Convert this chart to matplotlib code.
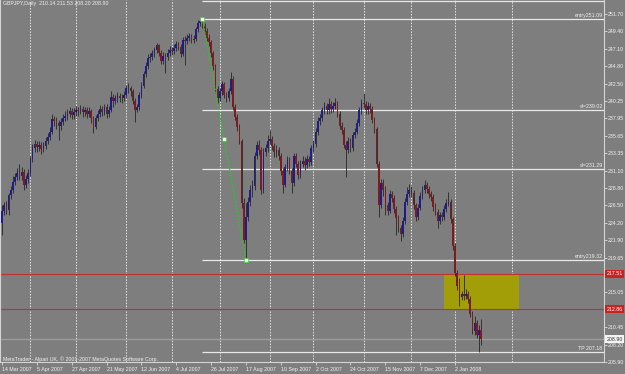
import matplotlib
matplotlib.use("Agg")
import matplotlib.pyplot as plt
import matplotlib.patches as patches
import numpy as np

# GBPJPY daily, 14 Mar 2007 .. mid Jan 2008
first_open = 224.2
close = [
    225.8, 226.5, 225.9, 227.9, 228.5, 229.6, 230.2, 230.8, 230.4, 230.9,
    229.2, 230.0, 230.8, 232.6, 234.0, 234.6, 234.2, 234.5, 233.9, 234.3,
    235.0, 235.5, 236.2, 237.9, 237.6, 237.3, 236.9, 237.5, 238.0, 238.3,
    238.6, 238.9, 238.4, 238.8, 239.0, 238.9, 239.2, 238.8, 239.0, 238.6,
    238.9, 238.0, 236.8, 238.0, 238.6, 239.2, 238.8, 239.4, 238.5, 239.0,
    240.8, 240.3, 240.6, 240.9, 240.7, 240.6, 241.0, 242.0, 241.9, 241.5,
    240.2, 239.1, 239.4, 241.0, 242.2, 243.8, 244.9, 245.9, 246.0, 246.5,
    246.9, 247.6, 246.6, 245.5, 246.2, 246.0, 246.6, 247.0, 246.8, 247.2,
    247.7, 247.4, 246.4, 248.3, 248.2, 248.6, 248.8, 248.3, 248.4, 249.7,
    250.5, 250.8, 250.1, 249.5, 248.6, 248.0, 246.5, 244.8, 241.8, 240.6,
    241.5, 242.5, 241.0, 240.6, 241.5, 243.2, 239.4, 238.2, 236.8, 235.0,
    226.8, 222.0, 225.0, 227.0, 228.5, 229.0, 233.0, 234.5, 233.8, 228.5,
    233.5, 234.0, 235.0, 235.3, 234.3, 233.5, 233.8, 233.0, 231.0, 229.2,
    231.5, 232.5, 231.0, 229.5, 233.0, 232.0, 230.5, 232.0, 232.4, 231.8,
    232.6, 232.2, 234.0, 234.6, 236.2, 237.6, 238.0, 239.0, 239.6, 239.0,
    239.8, 239.2, 239.6, 240.0, 238.5, 237.0, 236.4, 234.5, 233.8, 235.0,
    234.0, 235.8, 236.2, 237.4, 239.0, 240.0, 239.8, 239.0, 239.6, 239.2,
    237.8, 236.5, 232.0, 226.5, 229.5, 228.5, 226.5, 225.8, 228.0, 227.5,
    226.0, 224.8, 223.5, 222.8, 224.5, 227.0, 228.0, 228.6, 228.2, 226.5,
    225.0, 226.2, 227.8, 228.6, 229.2, 228.7, 228.0, 227.6, 226.3, 225.7,
    224.4, 225.2, 225.0, 226.0, 226.8, 227.0, 224.7, 221.2, 217.6, 215.9,
    214.5, 214.8, 214.6, 214.8, 214.2, 212.2, 210.0, 211.0, 209.4, 210.14,
    208.90,
]
high = [
    226.6, 227.0, 227.1, 228.2, 229.0, 230.4, 230.8, 231.4, 232.0, 231.5,
    231.3, 230.5, 231.3, 233.0, 234.6, 235.1, 235.0, 235.0, 234.9, 234.8,
    235.5, 236.0, 236.8, 238.6, 238.3, 238.1, 237.8, 238.0, 238.5, 238.9,
    239.2, 239.5, 239.3, 239.3, 239.6, 239.5, 239.7, 239.6, 239.5, 239.4,
    239.4, 239.2, 238.3, 238.4, 239.1, 239.7, 239.6, 239.9, 239.8, 239.6,
    241.5, 241.2, 241.1, 241.4, 241.3, 241.2, 241.6, 242.4, 242.6, 242.2,
    241.8, 240.6, 239.9, 241.4, 242.7, 244.2, 245.4, 246.4, 246.6, 247.0,
    247.4, 247.9, 247.8, 246.9, 246.7, 246.6, 247.1, 247.5, 247.4, 247.7,
    248.1, 248.0, 247.7, 248.7, 248.8, 249.0, 249.2, 249.1, 248.9, 250.0,
    250.9, 251.0, 251.09, 250.5, 249.8, 249.0, 248.3, 246.8, 245.1, 242.2,
    242.0, 242.9, 242.8, 241.4, 242.0, 244.0, 243.5, 239.8, 238.6, 237.2,
    235.3, 227.5, 226.8, 227.6, 229.2, 229.8, 233.6, 235.0, 235.1, 234.2,
    234.0, 234.6, 235.8, 236.4, 235.7, 234.7, 234.4, 234.2, 233.4, 231.4,
    232.0, 233.0, 232.9, 231.4, 233.4, 233.4, 232.4, 232.5, 233.0, 232.9,
    233.1, 233.0, 234.5, 235.1, 236.7, 238.1, 238.6, 239.5, 240.1, 240.0,
    240.6, 240.2, 240.1, 240.7, 240.3, 238.9, 237.5, 236.8, 235.0, 235.5,
    235.4, 236.2, 236.7, 237.9, 239.5, 240.5, 241.3, 240.2, 240.1, 240.0,
    239.6, 238.2, 236.8, 232.3, 230.0, 230.0, 229.0, 227.0, 228.5, 228.4,
    227.9, 226.4, 225.2, 223.9, 225.0, 227.5, 228.9, 229.3, 229.0, 228.6,
    226.8, 226.7, 228.3, 229.1, 229.9, 229.6, 229.1, 228.4, 228.0, 226.8,
    226.0, 225.7, 225.6, 226.5, 227.3, 228.3, 227.4, 225.0, 221.5, 218.0,
    217.0, 215.3, 217.3, 215.5, 215.2, 214.6, 212.6, 212.0, 211.4, 210.8,
    211.53,
]
low = [
    222.6, 225.2, 225.4, 225.3, 227.3, 228.1, 229.2, 229.8, 229.9, 229.9,
    228.5, 228.8, 229.5, 230.4, 232.2, 233.5, 233.6, 233.7, 233.3, 233.5,
    233.9, 234.6, 235.1, 235.9, 237.0, 236.6, 235.1, 236.4, 237.1, 237.6,
    237.8, 238.1, 237.9, 237.9, 238.3, 238.3, 238.5, 238.2, 238.3, 238.0,
    238.1, 237.4, 236.1, 236.5, 237.6, 238.2, 238.3, 238.4, 238.0, 238.1,
    238.8, 239.4, 239.8, 240.1, 240.1, 240.0, 240.2, 240.6, 241.3, 240.9,
    239.8, 237.5, 238.8, 239.0, 240.6, 241.9, 243.4, 244.5, 245.4, 245.6,
    246.0, 246.5, 246.2, 245.1, 245.1, 243.9, 245.6, 246.2, 246.3, 246.4,
    246.8, 246.9, 246.0, 246.2, 245.0, 247.8, 248.1, 247.9, 247.9, 248.1,
    249.3, 250.1, 249.8, 249.0, 248.2, 247.5, 246.1, 244.3, 241.3, 240.0,
    240.2, 241.1, 240.6, 240.1, 240.2, 241.2, 239.0, 237.7, 236.3, 234.6,
    226.2, 221.5, 219.32, 224.5, 226.4, 227.6, 228.6, 232.6, 233.2, 228.0,
    228.2, 233.0, 233.6, 234.6, 233.8, 232.9, 232.9, 232.5, 230.5, 228.2,
    228.9, 231.0, 230.6, 228.2, 229.1, 231.5, 230.0, 230.1, 231.6, 231.2,
    231.4, 231.7, 231.8, 233.6, 234.2, 235.8, 237.1, 237.6, 238.6, 238.5,
    238.6, 238.7, 238.8, 239.2, 238.1, 236.6, 235.9, 234.0, 230.3, 233.4,
    233.5, 233.7, 235.4, 235.9, 237.0, 238.6, 239.3, 238.6, 238.6, 238.7,
    237.3, 236.0, 231.5, 225.0, 226.2, 227.8, 225.3, 225.2, 225.5, 226.9,
    225.5, 222.6, 223.0, 221.8, 222.4, 224.1, 226.6, 227.6, 227.6, 226.0,
    224.5, 224.6, 225.9, 227.4, 228.2, 228.2, 227.5, 227.1, 225.8, 225.2,
    223.6, 224.0, 224.4, 224.6, 225.6, 226.4, 224.2, 220.7, 217.2, 215.4,
    213.3, 214.0, 214.1, 214.2, 213.7, 211.8, 209.6, 209.4, 209.0, 207.18,
    208.20,
]

# bar index of the axis dates and of the month grid lines
date_bars = [0, 16, 32, 48, 64, 80, 96, 112, 128, 144, 160, 176, 192, 208]
date_labels = ["14 Mar 2007", "5 Apr 2007", "27 Apr 2007", "21 May 2007",
               "12 Jun 2007", "4 Jul 2007", "26 Jul 2007", "17 Aug 2007",
               "10 Sep 2007", "2 Oct 2007", "24 Oct 2007", "15 Nov 2007",
               "7 Dec 2007", "2 Jan 2008"]
grid_bars = [13, 34, 57, 78, 100, 123, 143, 166, 188, 208, 234]

price_ticks = [251.70, 249.40, 247.10, 244.80, 242.50, 240.25, 237.95, 235.65,
               233.35, 231.10, 228.80, 226.50, 224.20, 221.90, 219.65, 217.35,
               215.05, 212.75, 210.45, 208.20, 205.90]

# drawn objects
level_names = ["", "entry251.09", "sl=239.02", "sl=231.29", "entry219.32", "TP 207.18"]
level_prices = [253.45, 251.09, 239.02, 231.29, 219.32, 207.18]
level_start_bar = 91.8
red_levels = [217.51, 212.86]
bid_price = 208.90
trend_bars = [92, 102, 112]
trend_prices = [251.09, 235.2, 219.32]
box_bars = [202.9, 237.4]

BG = "#7e7e7e"
FG = "#f2f2f2"
plt.rcParams["font.family"] = ["Liberation Sans", "DejaVu Sans"]
FS = 3.8

fig = plt.figure(figsize=(6.25, 3.74), dpi=100, facecolor=BG)
ax = fig.add_axes([0, 12 / 374, 604 / 625, 362 / 374], facecolor=BG)

n = len(close)
x = np.arange(n)
o = np.array([first_open] + close[:-1])
c = np.array(close)
up = c >= o

# month grid
for gb in grid_bars:
    ax.axvline(gb, color="#e6e6e6", lw=0.7, ls=(0, (1.5, 1.5)), zorder=1)

# yellow zone
ax.add_patch(patches.Rectangle((box_bars[0], red_levels[1]), box_bars[1] - box_bars[0],
                               red_levels[0] - red_levels[1], facecolor="#a29e08",
                               edgecolor="none", zorder=1.5))

# horizontal levels
for name, p in zip(level_names, level_prices):
    ax.hlines(p, level_start_bar, 300, color="#e8e8e8", lw=0.9, zorder=2)
    if name:
        ax.text(275.8, p + 0.12, name, color=FG, fontsize=FS, ha="right", va="bottom", zorder=6)
for p in red_levels:
    ax.axhline(p, color="#c23030", lw=0.8, zorder=2)
ax.axhline(bid_price, color="#9c9c9c", lw=1.0, zorder=2)

# candles
ax.vlines(x, low, high, color="#262626", lw=0.6, zorder=3)
body_h = np.maximum(np.abs(c - o), 0.08)
ax.bar(x, body_h, bottom=np.minimum(o, c), width=0.75,
       color=np.where(up, "#1e1e86", "#7c1c1c"), edgecolor="none", zorder=4)

# trend line with anchors
ax.plot(trend_bars, trend_prices, color="#22cc22", lw=0.9, ls=(0, (1.5, 1.2)), zorder=5)
ax.plot(trend_bars, trend_prices, ls="none", marker="s", ms=2.2, mfc="#e8ffe8",
        mec="#22cc22", mew=0.4, zorder=6)

ax.set_xlim(-0.92, 276.4)
ax.set_ylim(205.9, 253.54)

# the two ticks that sit under the red price boxes are hidden in the screenshot
hidden = [217.35, 212.75]
ax.yaxis.tick_right()
ax.set_yticks(price_ticks)
ax.set_yticklabels(["" if t in hidden else f"{t:.2f}" for t in price_ticks])
ax.tick_params(axis="y", colors="#dcdcdc", labelcolor=FG, labelsize=FS, length=2, width=0.6, pad=1)
ax.set_xticks(date_bars)
ax.set_xticklabels(date_labels, ha="left")
ax.tick_params(axis="x", colors="#dcdcdc", labelcolor=FG, labelsize=FS, length=2, width=0.6, pad=1.5)

for side in ["right", "bottom", "left"]:
    ax.spines[side].set_color("#d4d4d4")
    ax.spines[side].set_linewidth(0.8)
ax.spines["top"].set_visible(False)

# price labels on the axis
for p in red_levels:
    ax.text(277.6, p, f"{p:.2f}", color="white", fontsize=FS, ha="left", va="center",
            clip_on=False, zorder=7,
            bbox=dict(boxstyle="square,pad=0.25", fc="#c82222", ec="none"))
ax.text(277.6, bid_price, f"{bid_price:.2f}", color="#303030", fontsize=FS, ha="left",
        va="center", clip_on=False, zorder=7,
        bbox=dict(boxstyle="square,pad=0.25", fc="#f4f4f4", ec="none"))

fig.text(3 / 625, 1 - 4 / 374, f"GBPJPY,Daily  {o[-1]:.2f} {high[-1]:.2f} {low[-1]:.2f} {close[-1]:.2f}",
         color=FG, fontsize=FS, ha="left", va="center")
fig.text(3 / 625, 1 - 359 / 374, "MetaTrader - Alpari UK, \u00a9 2001-2007 MetaQuotes Software Corp.",
         color=FG, fontsize=FS, ha="left", va="center")

fig.savefig("out.png", dpi=100, facecolor=BG)
